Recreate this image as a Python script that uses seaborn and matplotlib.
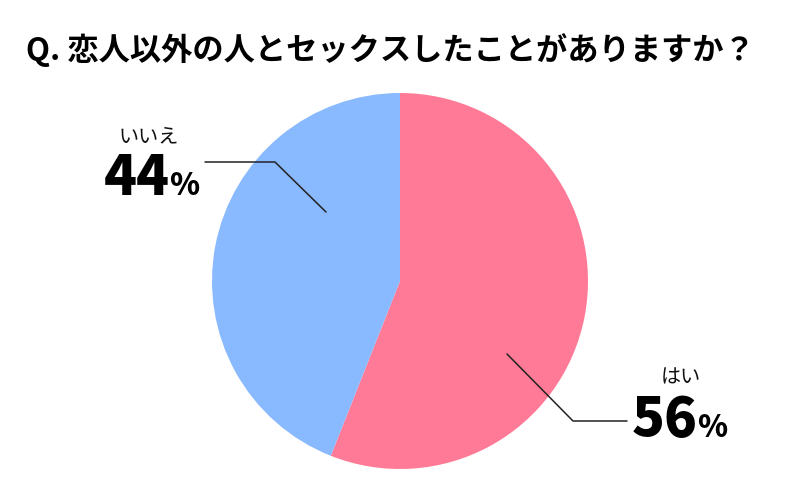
import matplotlib
matplotlib.use("Agg")
import matplotlib.pyplot as plt
import seaborn as sns

# データ
labels = ["はい", "いいえ"]
values = [56, 44]
colors = ["#FF7A97", "#89B9FF"]
title = "Q. 恋人以外の人とセックスしたことがありますか？"

sns.set_theme(style="white")
plt.rcParams['font.family'] = ['Noto Sans CJK JP', 'DejaVu Sans']

W, H = 800, 500


def Y(y):
    # 画像座標 (上が0) -> データ座標
    return H - y


fig = plt.figure(figsize=(8, 5), dpi=100)
fig.patch.set_facecolor("white")
ax = fig.add_axes([0, 0, 1, 1])

ax.pie(values, colors=colors, startangle=90, counterclock=False,
       center=(400, Y(281)), radius=188,
       wedgeprops={'linewidth': 0})

ax.set_xlim(0, W)
ax.set_ylim(0, H)
ax.set_aspect('auto')
ax.axis('off')

# タイトル
ax.text(390, Y(50), title, ha='center', va='center',
        fontsize=22.5, fontweight='bold', color='black')

# 引き出し線
ax.plot([205, 275, 326], [Y(162), Y(162), Y(212)], color='#222222', lw=1.1)
ax.plot([507, 573, 627], [Y(354), Y(421), Y(421)], color='#222222', lw=1.1)

# ラベル
ax.text(149, Y(137), labels[1], ha='center', va='center', fontsize=14.5, color='#111111')
ax.text(170, Y(195), f"{values[1]}", ha='right', va='baseline',
        fontsize=39, fontweight='black', color='black')
ax.text(169, Y(195), "%", ha='left', va='baseline',
        fontsize=22, fontweight='black', color='black')

ax.text(681, Y(378), labels[0], ha='center', va='center', fontsize=14.5, color='#111111')
ax.text(698, Y(437), f"{values[0]}", ha='right', va='baseline',
        fontsize=39, fontweight='black', color='black')
ax.text(697, Y(437), "%", ha='left', va='baseline',
        fontsize=22, fontweight='black', color='black')

fig.savefig("out.png", dpi=100)
plt.close(fig)
